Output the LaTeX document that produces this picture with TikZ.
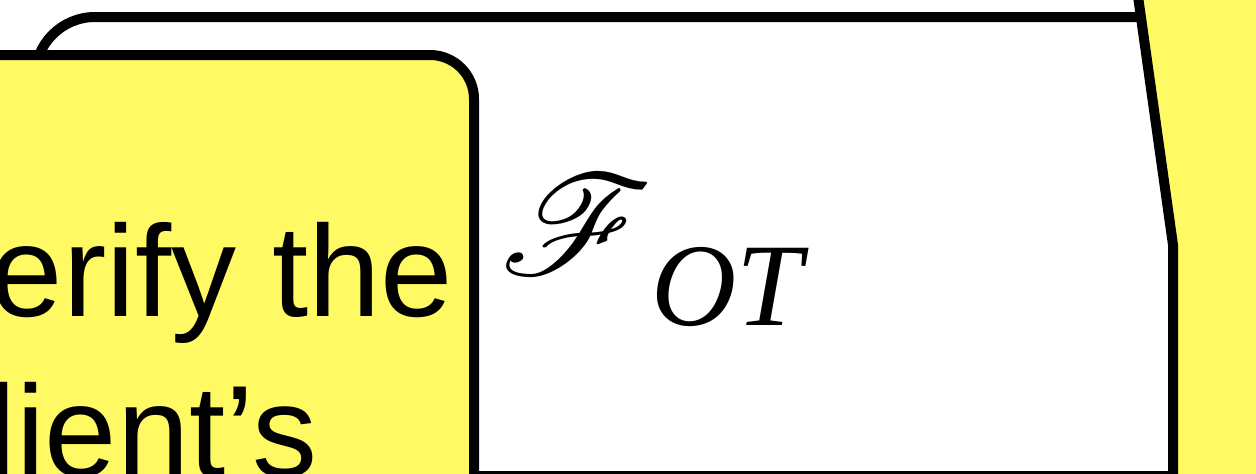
\documentclass[tikz,border=0pt]{standalone}
\usepackage{amsmath}
\usepackage{graphicx}
\usepackage{mathrsfs}
\usepackage{fontspec}
\setmainfont{Liberation Sans}
\newfontfamily\timesit{Liberation Serif}
\usepackage{tikz}

\definecolor{noteyellow}{RGB}{255,249,100}

\begin{document}
\begin{tikzpicture}[x=1pt,y=-1pt,
  panel/.style={draw=black, line width=10pt, fill=white},
  note/.style={draw=black, line width=10pt, fill=noteyellow, line join=miter}]

\useasboundingbox (0,0) rectangle (1256,474);

% Functionality panel
\draw[panel, rounded corners=60] (35,476) rectangle (1320,17);

% Right note
\draw[note] (1135,-25) -- (1173,245) -- (1173,520) -- (1320,520) -- (1320,-25) -- cycle;

% Left note
\draw[note, rounded corners=44] (-200,55) rectangle (474,620);
\node[anchor=base west, align=left, inner sep=0pt,
      font=\fontsize{130}{160}\selectfont] (verify) at (-89,476)
  {Verify the\\\hspace*{11pt}client’s};

% Ideal functionality
\node[anchor=base west, inner sep=0pt, font=\fontsize{17.28}{20}\selectfont]
  (fot) at (500,274)
  {\scalebox{8.6}[8.2]{$\mathscr{F}$}\hspace{-2pt}%
   \raisebox{-51pt}{\fontsize{118}{118}\selectfont\timesit\itshape OT}};

\end{tikzpicture}
\end{document}
